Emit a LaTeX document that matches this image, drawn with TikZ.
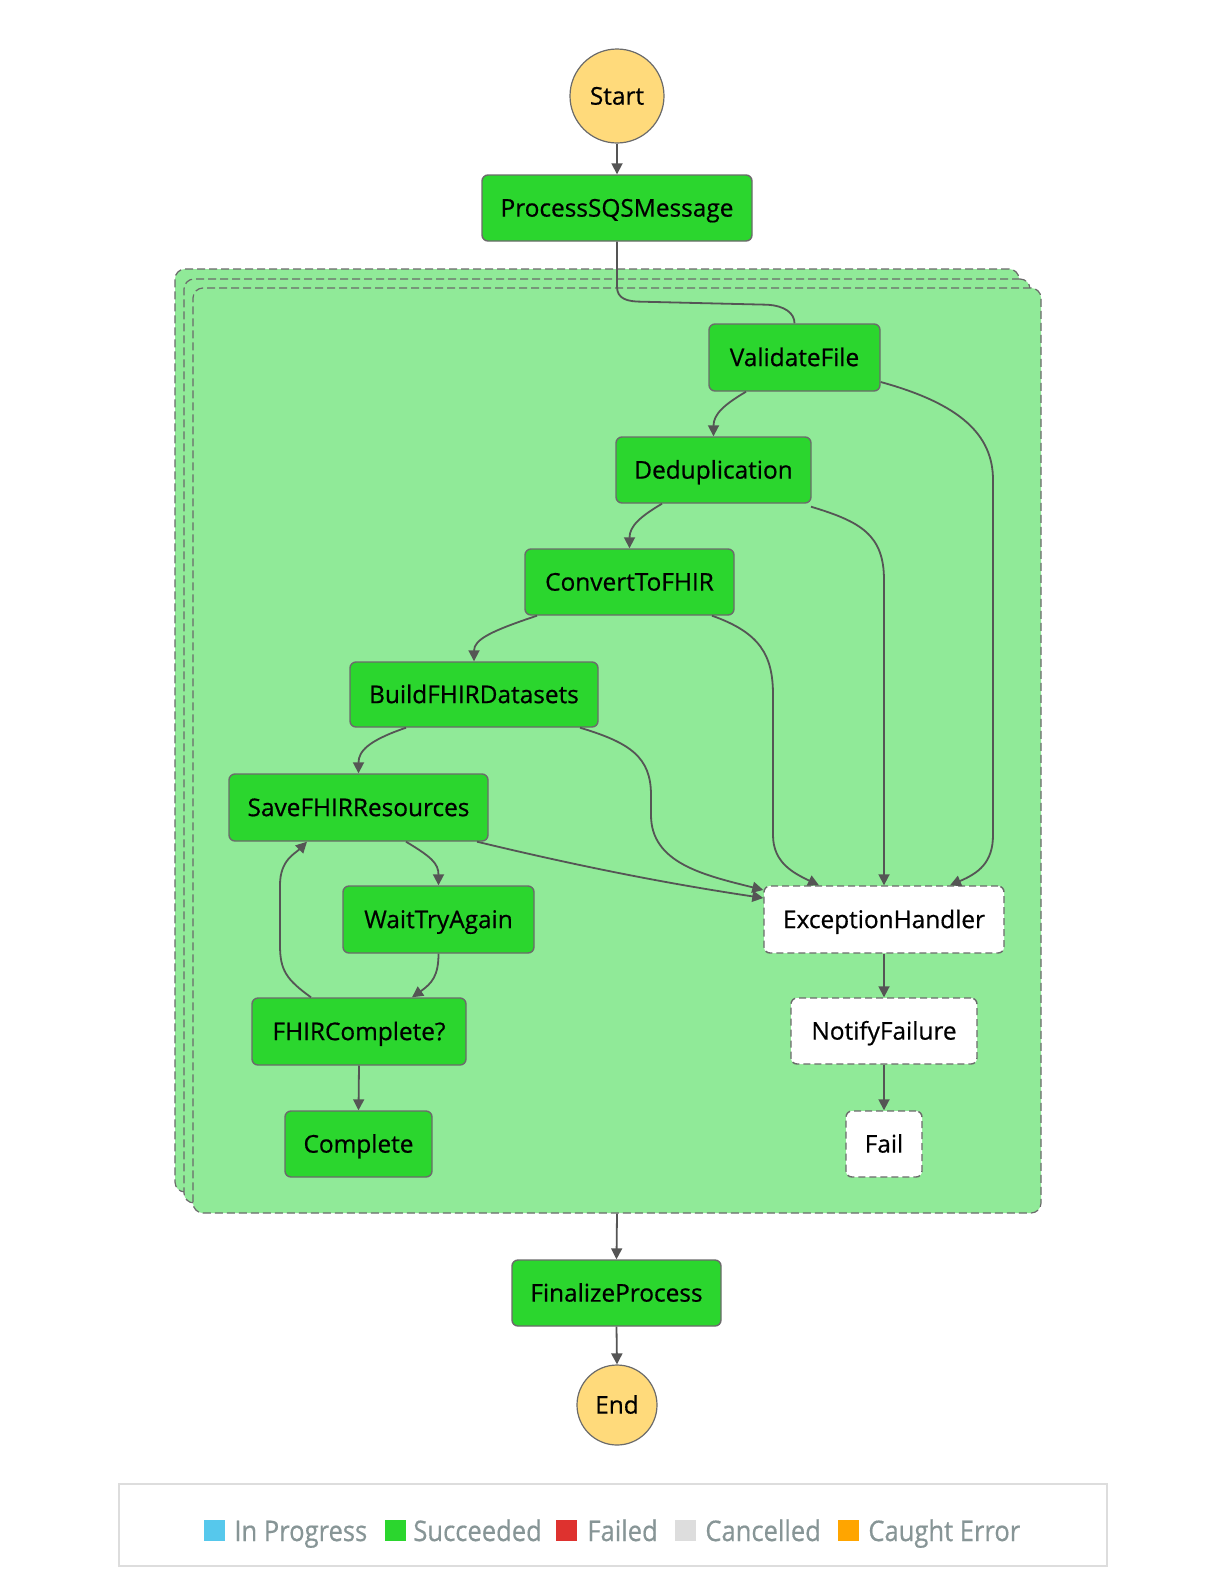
\documentclass[tikz,border=0pt]{standalone}
\usepackage{fontspec}
\setmainfont{Open Sans}
\newfontfamily\nodefont[FakeBold=0.6]{Open Sans}
\newfontfamily\legendfont[FakeStretch=0.9,FakeBold=0.5]{Open Sans}
\usetikzlibrary{arrows.meta,calc}
\definecolor{nodegreen}{HTML}{2BD62E}
\definecolor{mapgreen}{HTML}{90EA98}
\definecolor{termyellow}{HTML}{FFDA7B}
\definecolor{bordergray}{HTML}{6B6B6B}
\definecolor{edgegray}{HTML}{555555}
\definecolor{legendgray}{HTML}{879596}
\definecolor{legendborder}{HTML}{DDDDDD}
\definecolor{lgblue}{HTML}{56C8EC}
\definecolor{lgred}{HTML}{DE322F}
\definecolor{lggray}{HTML}{DDDDDD}
\definecolor{lgorange}{HTML}{FFA500}
\tikzset{
  statebox/.style={rectangle, rounded corners=3pt, draw=bordergray, line width=0.7pt,
    fill=nodegreen, inner sep=0pt, text=black, text height=8.6pt, text depth=0pt,
    font=\nodefont\fontsize{12.2}{14}\selectfont},
  catchbox/.style={statebox, fill=white, dash pattern=on 3.5pt off 2pt},
  termnode/.style={circle, draw=bordergray, line width=0.6pt, fill=termyellow, inner sep=0pt,
    text=black, text height=8.6pt, text depth=0pt, font=\nodefont\fontsize{12.2}{14}\selectfont},
  mapbox/.style={rectangle, rounded corners=5pt, draw=bordergray, line width=0.6pt,
    dash pattern=on 4pt off 2pt, fill=mapgreen, inner sep=0pt},
  flow/.style={draw=edgegray, line width=0.9pt, -{Triangle[width=5.5pt,length=5.5pt]}},
  plainflow/.style={draw=edgegray, line width=0.9pt},
  lgsq/.style={rectangle, inner sep=0pt, minimum width=10.5pt, minimum height=10.5pt},
  lgtext/.style={anchor=base west, inner sep=0pt, text=legendgray, font=\legendfont\fontsize{14.2}{16}\selectfont},
}
\begin{document}
\begin{tikzpicture}[x=0.5pt, y=-0.5pt]
\useasboundingbox (0,0) rectangle (1224,1596);
\fill[white] (0,0) rectangle (1224,1596);

% map containers
\node[mapbox, minimum width=422pt, minimum height=461.5pt] (map3) at (597,730.5) {};
\node[mapbox, minimum width=423pt, minimum height=462pt] (map2) at (607,741) {};
\node[mapbox, minimum width=424pt, minimum height=462.5pt] (map1) at (617,750.5) {};

% terminals
\node[termnode, minimum size=47pt] (start) at (617,96) {Start};
\node[termnode, minimum size=40pt] (end) at (617,1405) {End};

% states
\node[statebox, minimum width=135pt, minimum height=33pt] (psqs) at (617,208) {ProcessSQSMessage};
\node[statebox, minimum width=85.5pt, minimum height=33.5pt] (vf) at (794.5,357.5) {ValidateFile};
\node[statebox, minimum width=97.5pt, minimum height=33pt] (dedup) at (713.5,470) {Deduplication};
\node[statebox, minimum width=104.5pt, minimum height=33pt] (cfhir) at (629.5,582) {ConvertToFHIR};
\node[statebox, minimum width=124pt, minimum height=32.5pt] (bfd) at (474,694.5) {BuildFHIRDatasets};
\node[statebox, minimum width=129.5pt, minimum height=33.5pt] (sfr) at (358.5,807.5) {SaveFHIRResources};
\node[statebox, minimum width=95.5pt, minimum height=33.5pt] (wta) at (438.5,919.5) {WaitTryAgain};
\node[statebox, minimum width=107pt, minimum height=33.5pt] (fhc) at (359,1031.5) {FHIRComplete?};
\node[statebox, minimum width=73.5pt, minimum height=33pt] (complete) at (358.5,1144) {Complete};
\node[catchbox, minimum width=120pt, minimum height=33.5pt] (eh) at (884,919.5) {ExceptionHandler};
\node[catchbox, minimum width=93pt, minimum height=33pt] (nf) at (884,1031) {NotifyFailure};
\node[catchbox, minimum width=38pt, minimum height=33pt] (fail) at (884,1144) {Fail};
\node[statebox, minimum width=104.5pt, minimum height=33pt] (fp) at (616.5,1293) {FinalizeProcess};

% connectors
\draw[flow] (start.south) -- (psqs.north);
\draw[plainflow] (psqs.south) -- ++(0,45) .. controls +(0,12) and +(-15,0) .. ++(25,15)
   -- ++(125,3) .. controls +(18,1) and +(0,-10) .. (vf.north);
\draw[flow] ([xshift=-24.25pt]vf.south) .. controls +(-22,13) and +(0,-22) .. (dedup.north);
\draw[flow] ([yshift=-12.25pt]vf.east) .. controls +(80,22) and +(0,-45) .. (993,480)
   -- (993,835) .. controls +(0,28) and +(28,-12) .. ([xshift=33pt]eh.north);
\draw[flow] ([xshift=-25.75pt]dedup.south) .. controls +(-22,13) and +(0,-22) .. (cfhir.north);
\draw[flow] ([xshift=48.75pt,yshift=-1.5pt]dedup.south) .. controls +(50,15) and +(0,-45) .. (884,580) -- (eh.north);
\draw[flow] ([xshift=-46.25pt]cfhir.south) .. controls +(-45,15) and +(0,-22) .. (bfd.north);
\draw[flow] ([xshift=41.25pt]cfhir.south) .. controls +(48,17) and +(0,-40) .. (773,695)
   -- (773,835) .. controls +(0,28) and +(-25,-12) .. ([xshift=-32.5pt]eh.north);
\draw[flow] ([xshift=-34pt]bfd.south) .. controls +(-38,13) and +(0,-22) .. (sfr.north);
\draw[flow] ([xshift=53pt]bfd.south) .. controls +(50,15) and +(0,-38) .. (651,795)
   -- (651,815) .. controls +(0,48) and +(-60,-15) .. ([yshift=14.75pt]eh.west);
\draw[flow] ([xshift=59.25pt]sfr.south) .. controls +(100,24) and +(-100,-15) .. ([yshift=10.75pt]eh.west);
\draw[flow] ([xshift=23.75pt]sfr.south) .. controls +(25,15) and +(0,-22) .. (wta.north);
\draw[flow] (wta.south) .. controls +(0,22) and +(20,-14) .. ([xshift=26.5pt]fhc.north);
\draw[flow] ([xshift=-24pt]fhc.north) .. controls +(-25,-18) and +(0,25) .. (280,945)
   -- (280,885) .. controls +(0,-25) and +(-12,12) .. ([xshift=-25.75pt]sfr.south);
\draw[flow] (fhc.south) -- (complete.north);
\draw[flow] (eh.south) -- (nf.north);
\draw[flow] (nf.south) -- (fail.north);
\draw[flow] (map1.south) -- (fp.north);
\draw[flow] (fp.south) -- (end.north);

% legend
\node[rectangle, draw=legendborder, line width=1pt, minimum width=494pt, minimum height=40.75pt, inner sep=0pt] (legend) at (613,1525) {};
\node[lgsq, fill=lgblue] (sq1) at (214,1530.5) {};
\node[lgtext] (t1) at (234,1541) {In Progress};
\node[lgsq, fill=nodegreen] (sq2) at (395,1530.5) {};
\node[lgtext] (t2) at (413,1541) {Succeeded};
\node[lgsq, fill=lgred] (sq3) at (566.5,1530.5) {};
\node[lgtext] (t3) at (587,1541) {Failed};
\node[lgsq, fill=lggray] (sq4) at (685.5,1530.5) {};
\node[lgtext] (t4) at (705,1541) {Cancelled};
\node[lgsq, fill=lgorange] (sq5) at (848,1530.5) {};
\node[lgtext] (t5) at (868,1541) {Caught Error};
\end{tikzpicture}
\end{document}
